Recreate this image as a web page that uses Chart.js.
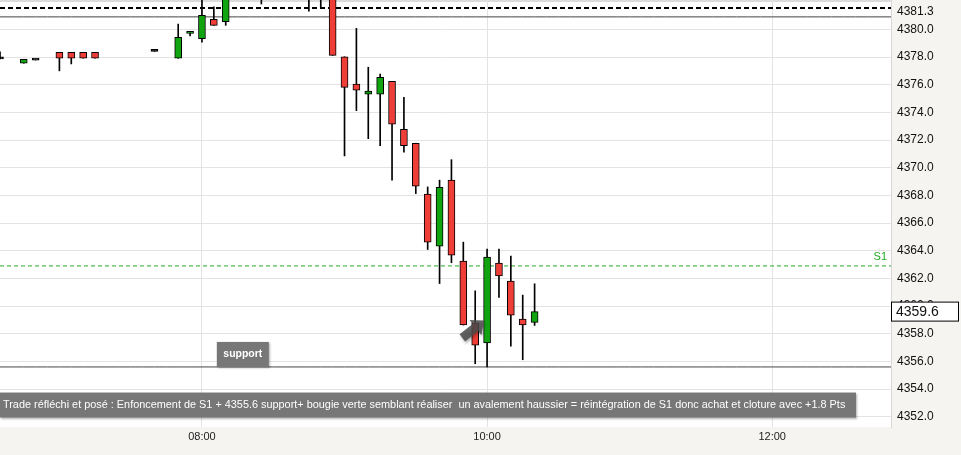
<!DOCTYPE html>
<html>
<head>
<meta charset="utf-8">
<script src="https://cdn.jsdelivr.net/npm/chart.js@4.4.0/dist/chart.umd.min.js"></script>
<style>
html, body { margin: 0; padding: 0; background: #f5f4f1; }
#wrap { width: 961px; height: 455px; position: relative; }
</style>
</head>
<body>
<div id="wrap"><canvas id="chart"></canvas></div>
<script>
// 5 minute candles (the 08:15-08:50 ones sit above the visible range)
const candleTimes = ['06:35', '06:45', '06:50', '07:00', '07:05', '07:10', '07:15', '07:40', '07:50', '07:55',
    '08:00', '08:05', '08:10', '08:15', '08:20', '08:25', '08:30', '08:35', '08:40', '08:45', '08:50', '08:55',
    '09:00', '09:05', '09:10', '09:15', '09:20', '09:25', '09:30', '09:35', '09:40', '09:45', '09:50', '09:55',
    '10:00', '10:05', '10:10', '10:15', '10:20'];
const opens = [4377.86, 4377.55, 4377.78, 4378.34, 4378.34, 4378.34, 4378.34, 4378.41, 4377.91, 4379.71,
    4379.32, 4380.72, 4380.55, 4383.0, 4383.4, 4382.9, 4383.2, 4383.6, 4383.0, 4383.3, 4382.8, 4383.1,
    4378.02, 4376.05, 4375.31, 4375.31, 4376.25, 4372.78, 4371.77, 4368.09, 4364.33, 4369.1, 4363.25, 4358.79,
    4357.33, 4363.1, 4361.8, 4359.06, 4358.82];
const highs = [4378.38, 4377.83, 4377.78, 4378.34, 4378.34, 4378.34, 4378.34, 4378.41, 4380.38, 4379.86,
    4382.5, 4381.63, 4382.9, 4383.8, 4384.2, 4383.6, 4384.0, 4384.4, 4383.8, 4384.0, 4383.5, 4383.4,
    4378.02, 4380.07, 4377.26, 4376.77, 4376.25, 4375.09, 4371.77, 4368.61, 4369.1, 4370.58, 4364.62, 4361.1,
    4364.12, 4364.12, 4363.61, 4360.79, 4361.61];
const lows = [4377.86, 4377.55, 4377.78, 4377.0, 4377.5, 4377.91, 4377.91, 4378.41, 4377.91, 4379.52,
    4379.08, 4380.29, 4380.29, 4382.4, 4382.6, 4381.83, 4382.5, 4382.8, 4382.4, 4381.32, 4381.59, 4378.12,
    4370.85, 4374.12, 4372.1, 4371.6, 4369.1, 4371.12, 4368.13, 4364.09, 4361.63, 4363.13, 4358.63, 4355.83,
    4355.6, 4360.62, 4357.11, 4356.12, 4358.6];
const closes = [4377.86, 4377.83, 4377.78, 4377.91, 4377.91, 4377.91, 4377.91, 4378.41, 4379.42, 4379.86,
    4381.01, 4380.29, 4382.6, 4383.4, 4382.9, 4383.2, 4383.6, 4383.0, 4383.3, 4382.8, 4383.1, 4378.12,
    4375.81, 4375.6, 4375.54, 4376.53, 4373.14, 4371.6, 4368.66, 4364.62, 4368.59, 4363.68, 4358.63, 4357.18,
    4363.54, 4362.17, 4359.35, 4358.63, 4359.6];

const axisLabels = ['08:00', '10:00', '12:00'];
const yTickValues = [4352, 4354, 4356, 4358, 4360, 4362, 4364, 4366, 4368, 4370, 4372, 4374, 4376, 4378, 4380, 4381.3];

// horizontal levels
const dashedLevel = 4381.55;
const upperLevel = 4380.9;
const supportLevel = 4355.6;
const s1Level = 4362.9;

const supportNote = { text: 'support', time: '08:05', price: supportLevel };
const tradeNote = 'Trade réfléchi et posé : Enfoncement de S1 + 4355.6 support+ bougie verte semblant réaliser  un avalement haussier = réintégration de S1 donc achat et cloture avec +1.8 Pts';
const arrowFrom = { time: '09:50', price: 4357.7 };
const arrowTo = { time: '10:00', price: 4358.95 };

const FONT = "'Liberation Sans', Arial, sans-serif";

// one slot every 5 minutes, 06:35 -> 12:50
const slotLabels = [];
for (let m = 6 * 60 + 35; m <= 12 * 60 + 50; m += 5) {
    const h = String(Math.floor(m / 60)).padStart(2, '0');
    const mm = String(m % 60).padStart(2, '0');
    slotLabels.push(`${h}:${mm}`);
}

function candleIndex(slot) {
    return candleTimes.indexOf(slotLabels[slot]);
}

const bodyData = slotLabels.map((t, s) => {
    const i = candleIndex(s);
    return i < 0 ? null : [opens[i], closes[i]];
});
const wickData = slotLabels.map((t, s) => {
    const i = candleIndex(s);
    return i < 0 ? null : [lows[i], highs[i]];
});

function bodyColor(ctx) {
    const i = candleIndex(ctx.dataIndex);
    if (i < 0) return 'black';
    if (closes[i] > opens[i]) return '#10a510';
    if (closes[i] < opens[i]) return '#ef3e38';
    return '#000';
}

function levelLine(value, color, width, dash) {
    return {
        type: 'line',
        data: slotLabels.map(() => value),
        borderColor: color,
        borderWidth: width,
        borderDash: dash,
        pointRadius: 0,
        fill: false,
        order: 3,
    };
}

function box(ctx, x, y, w, h) {
    ctx.save();
    ctx.shadowColor = 'rgba(0,0,0,0.3)';
    ctx.shadowBlur = 2;
    ctx.shadowOffsetX = 1;
    ctx.shadowOffsetY = 1;
    ctx.fillStyle = '#777777';
    ctx.fillRect(x, y, w, h);
    ctx.restore();
}

function fitFont(ctx, text, weight, target) {
    ctx.font = `${weight} 11px ${FONT}`;
    const size = 11 * target / ctx.measureText(text).width;
    return `${weight} ${size.toFixed(2)}px ${FONT}`;
}

const decor = {
    id: 'decor',
    beforeDraw(chart) {
        const { ctx, chartArea } = chart;
        ctx.save();
        ctx.fillStyle = '#f5f4f1';
        ctx.fillRect(0, 0, chart.width, chart.height);
        ctx.fillStyle = '#ffffff';
        ctx.fillRect(chartArea.left, chartArea.top, chartArea.right - chartArea.left, chartArea.bottom - chartArea.top);
        ctx.fillStyle = '#dcdcdc';
        ctx.fillRect(chartArea.left, chartArea.top, chartArea.right - chartArea.left, 2);
        ctx.restore();
    },
    afterDatasetsDraw(chart) {
        const { ctx, chartArea } = chart;
        const x = chart.scales.x;
        const y = chart.scales.y;

        // S1 label
        ctx.save();
        ctx.font = `11px ${FONT}`;
        ctx.fillStyle = '#22aa22';
        ctx.textAlign = 'right';
        ctx.textBaseline = 'bottom';
        ctx.fillText('S1', chartArea.right - 4, y.getPixelForValue(s1Level) - 3);
        ctx.restore();

        // arrow
        const x1 = x.getPixelForValue(slotLabels.indexOf(arrowFrom.time)) - 1;
        const y1 = y.getPixelForValue(arrowFrom.price);
        const x2 = x.getPixelForValue(slotLabels.indexOf(arrowTo.time)) - 3;
        const y2 = y.getPixelForValue(arrowTo.price);
        const ang = Math.atan2(y2 - y1, x2 - x1);
        const len = Math.hypot(x2 - x1, y2 - y1);
        ctx.save();
        ctx.translate(x1, y1);
        ctx.rotate(ang);
        ctx.beginPath();
        ctx.moveTo(0, -4.5);
        ctx.lineTo(len - 11, -4.5);
        ctx.lineTo(len - 11, -9.5);
        ctx.lineTo(len, 0);
        ctx.lineTo(len - 11, 9.5);
        ctx.lineTo(len - 11, 4.5);
        ctx.lineTo(0, 4.5);
        ctx.closePath();
        ctx.shadowColor = 'rgba(0,0,0,0.35)';
        ctx.shadowBlur = 3;
        ctx.shadowOffsetX = 1;
        ctx.shadowOffsetY = 2;
        ctx.fillStyle = 'rgba(75,75,75,0.85)';
        ctx.fill();
        ctx.restore();

        // support note
        const sx = x.getPixelForValue(slotLabels.indexOf(supportNote.time)) + 3;
        const sy = y.getPixelForValue(supportNote.price);
        box(ctx, sx, sy - 25, 52, 25);
        ctx.save();
        ctx.font = fitFont(ctx, supportNote.text, 'bold', 39);
        ctx.fillStyle = '#ffffff';
        ctx.textAlign = 'center';
        ctx.textBaseline = 'middle';
        ctx.fillText(supportNote.text, sx + 26, sy - 13);
        ctx.restore();

        // trade note
        const ty = y.getPixelForValue(4353.75);
        box(ctx, chartArea.left, ty, 856, 25);
        ctx.save();
        ctx.font = fitFont(ctx, tradeNote, 'normal', 843);
        ctx.fillStyle = '#ffffff';
        ctx.textAlign = 'left';
        ctx.textBaseline = 'middle';
        ctx.fillText(tradeNote, chartArea.left + 3, ty + 12.5);
        ctx.restore();
    },
    afterDraw(chart) {
        const { ctx, chartArea } = chart;
        const y = chart.scales.y;
        const last = closes[closes.length - 1];
        const py = y.getPixelForValue(last);
        ctx.save();
        ctx.fillStyle = '#ffffff';
        ctx.fillRect(chartArea.right + 0.5, py - 9.5, 67, 19);
        ctx.strokeStyle = '#000';
        ctx.lineWidth = 1;
        ctx.strokeRect(chartArea.right + 0.5, py - 9.5, 67, 19);
        ctx.font = `14px ${FONT}`;
        ctx.fillStyle = '#111';
        ctx.textBaseline = 'middle';
        ctx.fillText(last.toFixed(1), chartArea.right + 5, py + 0.5);
        ctx.restore();
    },
};

new Chart(document.getElementById('chart'), {
    type: 'bar',
    data: {
        labels: slotLabels,
        datasets: [
            {
                data: bodyData,
                backgroundColor: bodyColor,
                borderColor: '#000',
                borderWidth: 1,
                borderSkipped: false,
                barThickness: 7,
                minBarLength: 2,
                grouped: false,
                order: 1,
            },
            {
                data: wickData,
                backgroundColor: '#000',
                borderWidth: 0,
                barThickness: 1,
                grouped: false,
                order: 2,
            },
            levelLine(dashedLevel, '#000', 2, [5, 3]),
            levelLine(upperLevel, '#444', 1, []),
            levelLine(supportLevel, '#444', 1, []),
            levelLine(s1Level, '#22aa22', 1, [4, 3]),
        ],
    },
    options: {
        responsive: true,
        maintainAspectRatio: false,
        animation: false,
        layout: { padding: 0 },
        plugins: {
            legend: { display: false },
            tooltip: { enabled: false },
        },
        scales: {
            x: {
                offset: false,
                grid: {
                    offset: false,
                    color: '#e3e3e3',
                    drawTicks: false,
                },
                border: { display: false },
                ticks: {
                    autoSkip: false,
                    maxRotation: 0,
                    padding: 3,
                    color: '#222',
                    font: { family: FONT, size: 11 },
                    callback: function (value) {
                        const label = slotLabels[value];
                        return axisLabels.includes(label) ? label : null;
                    },
                },
                afterFit(scale) {
                    scale.height = 28;
                    scale.paddingLeft = 0;
                    scale.paddingRight = 0;
                },
            },
            y: {
                position: 'right',
                min: 4351.26,
                max: 4382.12,
                grid: {
                    color: (ctx) => (ctx.tick && ctx.tick.value === 4381.3 ? 'rgba(0,0,0,0)' : '#e3e3e3'),
                    drawTicks: false,
                },
                border: { display: true, color: '#d8d8d8' },
                ticks: {
                    padding: 6,
                    color: '#111',
                    font: { family: FONT, size: 12 },
                    callback: (v) => Number(v).toFixed(1),
                },
                afterBuildTicks(scale) {
                    scale.ticks = yTickValues.map(v => ({ value: v }));
                },
                afterFit(scale) {
                    scale.width = 70;
                    scale.paddingTop = 0;
                    scale.paddingBottom = 0;
                },
            },
        },
    },
    plugins: [decor],
});
</script>
</body>
</html>
